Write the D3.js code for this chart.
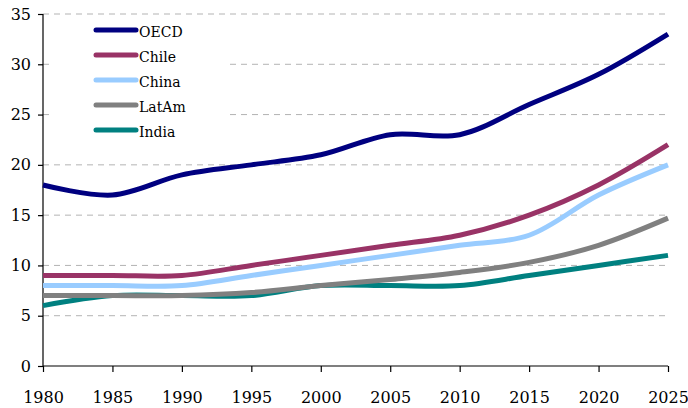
<!DOCTYPE html>
<html>
<head>
<meta charset="utf-8">
<script src="https://cdn.jsdelivr.net/npm/d3@7"></script>
<style>
  body { margin: 0; background: #fff; }
</style>
</head>
<body>
<svg id="chart" width="688" height="408"></svg>
<script>
var years = [1980, 1985, 1990, 1995, 2000, 2005, 2010, 2015, 2020, 2025];
var oecd  = [18, 17, 19, 20, 21, 23, 23, 26, 29, 33];
var chile = [9, 9, 9, 10, 11, 12, 13, 15, 18, 22];
var china = [8, 8, 8, 9, 10, 11, 12, 13, 17, 20];
var latam = [7, 7, 7, 7.3, 8, 8.6, 9.3, 10.3, 12, 14.7];
var india = [6, 7, 7, 7, 8, 8, 8, 9, 10, 11];
var seriesNames = ["OECD", "Chile", "China", "LatAm", "India"];
var yTicks = [0, 5, 10, 15, 20, 25, 30, 35];

var colors = ["#000080", "#993366", "#99ccff", "#808080", "#008080"];
var allSeries = [oecd, chile, china, latam, india];
var serif = "'DejaVu Serif'";

var svg = d3.select("#chart");
var margin = {left: 43, right: 20, top: 14, bottom: 42};
var width = 688, height = 408;

var x = d3.scaleLinear().domain([1980, 2025]).range([margin.left, width - margin.right]);
var y = d3.scaleLinear().domain([0, 35]).range([height - margin.bottom, margin.top]);

// dashed gridlines
svg.append("g").selectAll("line")
    .data(yTicks.filter(function(d) { return d > 0; }))
    .enter().append("line")
    .attr("x1", x(1980)).attr("x2", x(2025))
    .attr("y1", function(d) { return y(d); })
    .attr("y2", function(d) { return y(d); })
    .attr("stroke", "#b3b3b3")
    .attr("stroke-width", 1)
    .attr("stroke-dasharray", "6,5");

// legend background hides the gridlines behind it
svg.append("rect")
    .attr("x", 50).attr("y", 18).attr("width", 177).attr("height", 127)
    .attr("fill", "#fff");

// axes
var yAxis = svg.append("g")
    .attr("transform", "translate(" + x(1980) + ",0)")
    .call(d3.axisLeft(y).tickValues(yTicks).tickSize(5).tickPadding(7));
var xAxis = svg.append("g")
    .attr("transform", "translate(0," + y(0) + ")")
    .call(d3.axisBottom(x).tickValues(years).tickSize(6).tickPadding(20).tickFormat(d3.format("d")));
[xAxis, yAxis].forEach(function(a) {
    a.attr("font-family", null).attr("font-size", null);
    a.select(".domain").attr("stroke", "#000").attr("stroke-width", 1.2);
    a.selectAll(".tick line").attr("stroke", "#000").attr("stroke-width", 1.2);
    a.selectAll("text").style("font-size", "16px").style("font-family", serif).attr("fill", "#000");
});
xAxis.select(".domain").attr("d", "M" + x(1980) + ",0H" + x(2025));
yAxis.select(".domain").attr("d", "M0," + y(0) + "V" + y(35));

// lines
var line = d3.line()
    .x(function(d, i) { return x(years[i]); })
    .y(function(d) { return y(d); })
    .curve(d3.curveCatmullRom.alpha(0.5));

var order = [4, 3, 2, 1, 0];
order.forEach(function(k) {
    svg.append("path")
        .datum(allSeries[k])
        .attr("d", line)
        .attr("fill", "none")
        .attr("stroke", colors[k])
        .attr("stroke-width", 5);
});

// legend
var leg = svg.append("g").selectAll("g")
    .data(seriesNames)
    .enter().append("g")
    .attr("transform", function(d, i) { return "translate(96," + (30 + i * 25) + ")"; });
leg.append("line")
    .attr("x1", 0).attr("x2", 40)
    .attr("stroke", function(d, i) { return colors[i]; })
    .attr("stroke-width", 5)
    .attr("stroke-linecap", "round");
leg.append("text")
    .attr("x", 43).attr("y", 7)
    .style("font-size", "14px")
    .style("font-family", serif)
    .text(function(d) { return d; });
</script>
</body>
</html>
